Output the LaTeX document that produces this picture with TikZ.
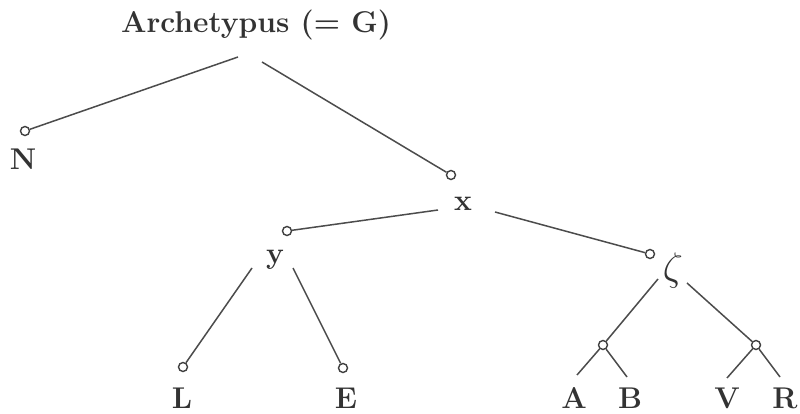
\documentclass[tikz,border=0pt]{standalone}
\begin{document}
\begin{tikzpicture}[x=1pt,y=-1pt,
  lbl/.style={font=\fontsize{30}{32}\selectfont\bfseries, inner sep=0pt, text=black!80},
  circ/.style={circle, draw=black!75, line width=1.4pt, inner sep=0pt, minimum size=9pt},
  edge/.style={draw=black!70, line width=1.5pt}]
\path[use as bounding box, fill=white] (0,0) rectangle (800,414);
% labels
\node[lbl, anchor=base] (arch) at (256,33) {Archetypus (= G)};
\node[lbl, anchor=base] (Nl) at (23,170) {N};
\node[lbl, anchor=base] (xl) at (463,211) {x};
\node[lbl, anchor=base] (yl) at (275,263) {y};
\node[lbl, anchor=base] (zl) at (673,280) {\scalebox{1.6}{$\zeta$}};
\node[lbl, anchor=base] (Ll) at (182,408) {L};
\node[lbl, anchor=base] (El) at (346,408) {E};
\node[lbl, anchor=base] (Al) at (574,408) {A};
\node[lbl, anchor=base] (Bl) at (630,408) {B};
\node[lbl, anchor=base] (Vl) at (727,408) {V};
\node[lbl, anchor=base] (Rl) at (785,408) {R};
% circles
\node[circ] (Nc) at (25,131) {};
\node[circ] (xc) at (451,175) {};
\node[circ] (yc) at (287,231) {};
\node[circ] (zc) at (650,254) {};
\node[circ] (Lc) at (183,367) {};
\node[circ] (Ec) at (343,368) {};
\node[circ] (ABc) at (603,345) {};
\node[circ] (VRc) at (756,345) {};
% free ends
\coordinate (archL) at (238,57);
\coordinate (archR) at (262,62);
\coordinate (xy) at (438,210);
\coordinate (xz) at (495,212);
\coordinate (yL) at (252,268);
\coordinate (yE) at (293,268);
\coordinate (zA) at (658,279);
\coordinate (zV) at (687,283);
\coordinate (aEnd) at (577,375);
\coordinate (bEnd) at (627,377);
\coordinate (vEnd) at (727,378);
\coordinate (rEnd) at (780,377);
% connectors
\path[edge] (archL) -- (Nc);
\path[edge] (archR) -- (xc);
\path[edge] (xy) -- (yc);
\path[edge] (xz) -- (zc);
\path[edge] (yL) -- (Lc);
\path[edge] (yE) -- (Ec);
\path[edge] (zA) -- (ABc);
\path[edge] (zV) -- (VRc);
\path[edge] (ABc) -- (aEnd);
\path[edge] (ABc) -- (bEnd);
\path[edge] (VRc) -- (vEnd);
\path[edge] (VRc) -- (rEnd);
\end{tikzpicture}
\end{document}
